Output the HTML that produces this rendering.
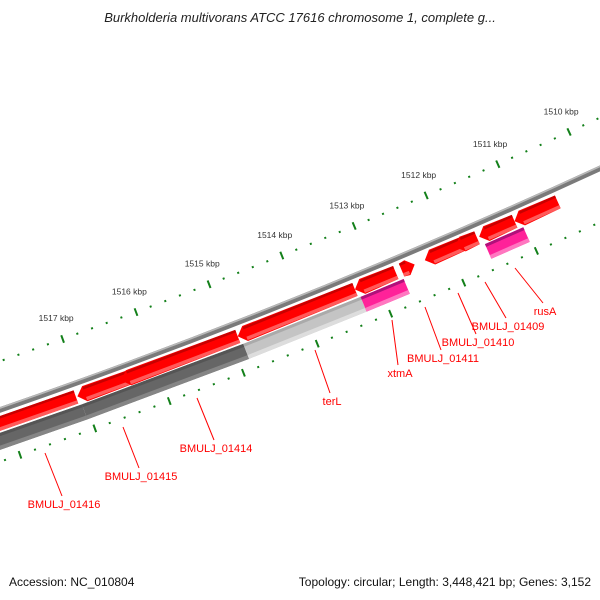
<!DOCTYPE html>
<html><head><meta charset="utf-8"><style>
html,body{margin:0;padding:0;background:#fff;width:600px;height:600px;overflow:hidden;}
svg{display:block;font-family:"Liberation Sans",sans-serif;}
</style></head><body>
<svg id="map" width="600" height="600" viewBox="0 0 600 600" xmlns="http://www.w3.org/2000/svg" overflow="hidden">
<text x="300" y="22" text-anchor="middle" font-size="13" font-style="italic" fill="#222">Burkholderia multivorans ATCC 17616 chromosome 1, complete g...</text>
<g id="ticks"></g>
<g id="backbone"></g>
<g id="genes"></g>
<g id="labels"></g>
<text x="9" y="586" font-size="12" fill="#111">Accession: NC_010804</text>
<text x="591" y="586" text-anchor="end" font-size="12" fill="#111">Topology: circular; Length: 3,448,421 bp; Genes: 3,152</text>
</svg>
<script>
// data (kbp)
const tickMajors = [1509,1510,1511,1512,1513,1514,1515,1516,1517,1518,1519];
const tickLabels = ["1509 kbp","1510 kbp","1511 kbp","1512 kbp","1513 kbp","1514 kbp","1515 kbp","1516 kbp","1517 kbp","1518 kbp","1519 kbp"];
const geneStart = [1518.55,1517.07,1516.48,1514.9,1513.3,1512.66,1512.34,1511.92,1511.59,1511.1];
const geneEnd   = [1517.09,1515.93,1514.9,1513.3,1512.74,1512.48,1511.65,1511.62,1511.1,1510.5];
const geneDir   = ["N","L","L","L","L","R","L","L","L","L"];
const featStart = [1518.6,1517.05,1514.87,1513.27,1511.56];
const featEnd   = [1517.05,1514.87,1513.27,1512.68,1511.03];
const featType  = ["dark","dark","light","pink","pink"];
const labelText = ["BMULJ_01416","BMULJ_01415","BMULJ_01414","terL","xtmA","BMULJ_01411","BMULJ_01410","BMULJ_01409","rusA"];
// leader line anchor (top) and label centre positions
const leadX1 = [45,123,197,315,392,425,458,485,515];
const leadY1 = [453,427,398,350,320,307,293,282,268];
const labX   = [64,141,216,332,400,443,478,508,545];
const labY   = [508,480,452,405,377,362,346,330,315];

const NS="http://www.w3.org/2000/svg";
const CX=-2125, CY=-5734;
function ang(k){return (70.19+(k-1517)*0.694)*Math.PI/180;}
function pt(k,r){const a=ang(k);return [CX+r*Math.cos(a),CY+r*Math.sin(a)];}
function mk(tag,attrs,parent){const e=document.createElementNS(NS,tag);for(const k in attrs)e.setAttribute(k,attrs[k]);parent.appendChild(e);return e;}
function poly(pts){return pts.map(p=>p[0].toFixed(2)+","+p[1].toFixed(2)).join(" ");}

const gT=document.getElementById('ticks');
for(let i=0;i<=50;i++){
  const k=1509+i*0.2;
  const major=Math.abs(k-Math.round(k))<1e-6;
  [6455,6550].forEach(r=>{
    const h=major?4:1;
    const a=pt(k,r-h),b=pt(k,r+h);
    const l=mk('line',{x1:a[0],y1:a[1],x2:b[0],y2:b[1],stroke:'#13801a','stroke-width':2},gT);
    
    
  });
}
tickMajors.forEach((k,i)=>{
  const p=pt(k,6436);
  const t=mk('text',{x:p[0],y:p[1],'text-anchor':'middle','font-size':8.5,fill:'#333'},gT);
  t.textContent=tickLabels[i];
  
  
});

const gB=document.getElementById('backbone');
[[6501,5.5,'#7a7a7a'],[6499.2,1.6,'#b8b8b8']].forEach(s=>{
  const c=mk('circle',{cx:CX,cy:CY,r:s[0],fill:'none',stroke:s[2],'stroke-width':s[1]},gB);
  
  
});

const gG=document.getElementById('genes');
function band(k1,k2,r0,r1,fill,name){
  const p=mk('polygon',{points:poly([pt(k1,r0),pt(k2,r0),pt(k2,r1),pt(k1,r1)]),fill:fill},gG);
  
  
}
featStart.forEach((s,i)=>{
  const e=featEnd[i],t=featType[i];
  const cols=t==='dark'?['#555555','#666666','#858585']:t==='light'?['#aaaaaa','#c4c4c4','#dddddd']:['#b0107a','#ff2299','#ff77c0'];
  band(s,e,6523,6539,cols[1],'feature-'+t);
  band(s,e,6523,6526,cols[0],'feature-edge');
  band(s,e,6535,6539,cols[2],'feature-edge');
});
const R0=6507,R1=6521,RM=(R0+R1)/2,H=0.1;
geneStart.forEach((s,i)=>{
  const e=geneEnd[i],d=geneDir[i];
  let pts;
  if(d==='L') pts=[pt(s,RM),pt(s-H,R0-1),pt(e,R0),pt(e,R1),pt(s-H,R1+1)];
  else if(d==='R') pts=[pt(s,R0),pt(e+H,R0-1),pt(e,RM),pt(e+H,R1+1),pt(s,R1)];
  else pts=[pt(s,R0),pt(e,R0),pt(e,R1),pt(s,R1)];
  const p=mk('polygon',{points:poly(pts),fill:'#ff0000'},gG);
  
  
  const a=d==='L'?s-H:s, b=d==='R'?e+H:e;
  const st=mk('polygon',{points:poly([pt(a,R1-3.5),pt(b,R1-3.5),pt(b,R1),pt(a,R1)]),fill:'#ff5a5a'},gG);
  
  
  const tp=mk('polygon',{points:poly([pt(a,R0),pt(b,R0),pt(b,R0+2.5),pt(a,R0+2.5)]),fill:'#c80000'},gG);
  
  
});

const gL=document.getElementById('labels');
labelText.forEach((txt,i)=>{
  const l=mk('line',{x1:leadX1[i],y1:leadY1[i],x2:labX[i]-2,y2:labY[i]-12,stroke:'#ff0000','stroke-width':1},gL);
  
  
  const t=mk('text',{x:labX[i],y:labY[i],'text-anchor':'middle','font-size':11,fill:'#ff0000'},gL);
  t.textContent=txt;
  
  
});
</script>
</body></html>
